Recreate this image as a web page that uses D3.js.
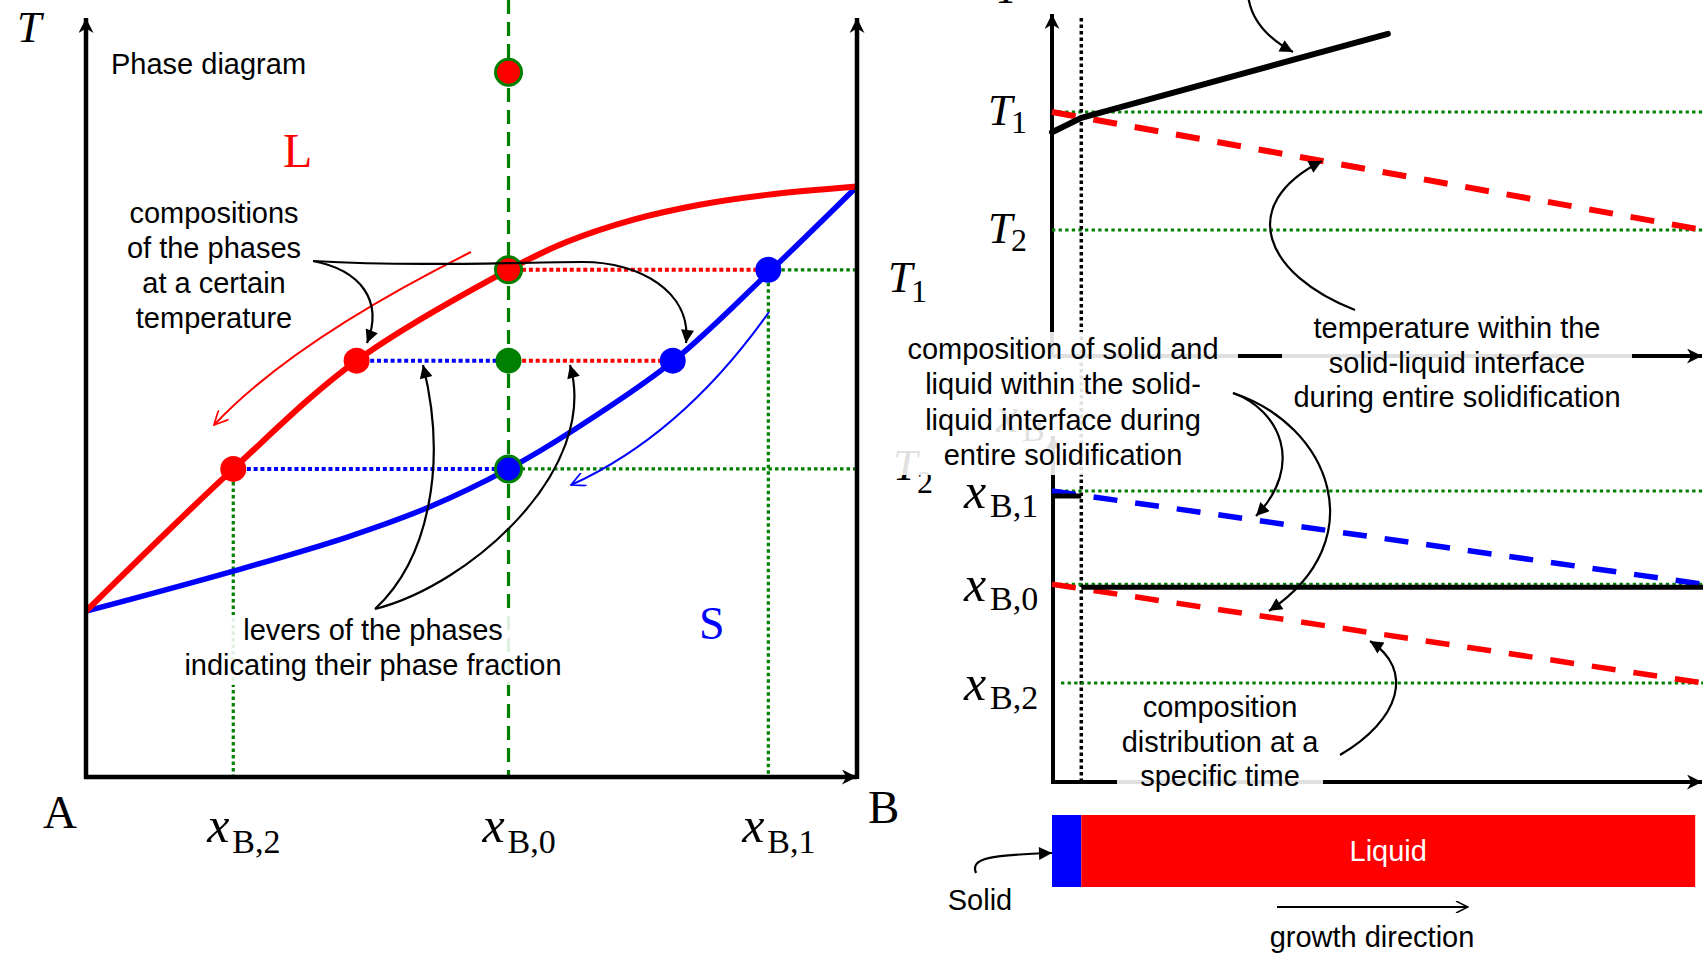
<!DOCTYPE html>
<html>
<head>
<meta charset="utf-8">
<script src="https://cdn.jsdelivr.net/npm/d3@7"></script>
<style>
  body { margin: 0; background: #fff; }
  svg { display: block; }
  .sans { font-family: 'Liberation Sans', Arial, sans-serif; font-size: 29px; fill: #000; }
  .math { font-family: 'Liberation Serif', 'Times New Roman', serif; fill: #000; }
</style>
</head>
<body>
<div id="chart"></div>
<script>
// ---- values ----

// compositions x_B marked on the phase diagram
const compositionNames = ['B,2', 'B,0', 'B,1'];
const compositionValues = [0.191, 0.548, 0.885];

// the two marked isotherms T1, T2 (arbitrary temperature units 0..100)
const temperatureNames = ['1', '2'];
const temperatureValues = [67.0, 40.7];
const tempMiddle = 55.0;   // intermediate tie line
const tempMelt = 93.1;     // melt above the liquidus

// liquidus and solidus as [x_B, T]
const liquidus = [[0, 21.9], [0.191, 40.7], [0.351, 55.0], [0.548, 67.0], [0.624, 70.7], [0.709, 73.6], [0.796, 75.6], [0.883, 76.9], [1, 78.0]];
const solidus = [[0, 21.9], [0.191, 27.2], [0.339, 31.7], [0.446, 35.7], [0.548, 40.7], [0.632, 45.8], [0.761, 54.9], [0.885, 66.6], [1, 78.0]];

// tie line ends at the intermediate temperature
const midLiquid = 0.351;
const midSolid = 0.761;

// right hand panels: position along the growth direction (0..1)
const interfacePos = 0.045;
const barEnd = 0.988;
const tempProfile = [[0, 62.5], [0.045, 65.7], [0.516, 84.4]];

const [x2, x0, x1] = compositionValues;
const [T1, T2] = temperatureValues;

// ---- setup ----
const W = 1703, H = 953;
const RED = '#ff0000', BLUE = '#0000ff', GREEN = '#008000';

const svg = d3.select('#chart').append('svg')
    .attr('width', W)
    .attr('height', H);

// scales: phase diagram
const xPD = d3.scaleLinear().domain([0, 1]).range([86, 857]);
const tPD = d3.scaleLinear().domain([0, 100]).range([777, 20]);
// scales: interface panels
const pos = d3.scaleLinear().domain([0, 1]).range([1052, 1703]);
const tIF = d3.scaleLinear().domain([T2, T1]).range([230, 112]);
const cIF = d3.scaleLinear().domain([x2, x1]).range([683, 491]);

// markers
const defs = svg.append('defs');
function marker(id, d, fill, stroke, w, h) {
    defs.append('marker')
        .attr('id', id)
        .attr('viewBox', '0 0 10 10')
        .attr('refX', 10).attr('refY', 5)
        .attr('markerUnits', 'userSpaceOnUse')
        .attr('markerWidth', w).attr('markerHeight', h)
        .attr('orient', 'auto')
        .append('path')
        .attr('d', d)
        .attr('fill', fill)
        .attr('stroke', stroke)
        .attr('stroke-width', stroke === 'none' ? 0 : 1.2);
}
marker('headFill', 'M0,0 L10,5 L0,10 z', '#000', 'none', 16, 13);
marker('axisHead', 'M0,0 L10,5 L0,10 L3,5 z', '#000', 'none', 15, 15);
marker('openRed', 'M0,0 L10,5 L0,10', 'none', RED, 16, 14);
marker('openBlue', 'M0,0 L10,5 L0,10', 'none', BLUE, 16, 14);
marker('openBlack', 'M0,0 L10,5 L0,10', 'none', '#000', 14, 12);

const curve = d3.line()
    .x(d => xPD(d[0]))
    .y(d => tPD(d[1]))
    .curve(d3.curveCatmullRom.alpha(0.5));

function hLine(g, xa, xb, y, color, width, dash) {
    return g.append('line')
        .attr('x1', xa).attr('x2', xb)
        .attr('y1', y).attr('y2', y)
        .attr('stroke', color)
        .attr('stroke-width', width)
        .attr('stroke-dasharray', dash);
}
function vLine(g, x, ya, yb, color, width, dash) {
    return g.append('line')
        .attr('x1', x).attr('x2', x)
        .attr('y1', ya).attr('y2', yb)
        .attr('stroke', color)
        .attr('stroke-width', width)
        .attr('stroke-dasharray', dash);
}
function box(g, x, y, w, h) {
    g.append('rect')
        .attr('x', x).attr('y', y)
        .attr('width', w).attr('height', h)
        .attr('fill', '#fff')
        .attr('opacity', 0.88);
}
function textBlock(g, lines, cx, y0, step) {
    const t = g.append('text').attr('class', 'sans').attr('text-anchor', 'middle');
    lines.forEach((s, i) => t.append('tspan').attr('x', cx).attr('y', y0 + i * step).text(s));
}
// italic symbol with upright subscript
function mathLabel(g, sym, sub, x, y, size, subSize, dx, dy) {
    const t = g.append('text').attr('class', 'math').attr('x', x).attr('y', y);
    t.append('tspan').attr('font-style', 'italic').attr('font-size', size).text(sym);
    if (sub) {
        t.append('tspan').attr('x', x + dx).attr('y', y + dy).attr('font-size', subSize).text(sub);
    }
    return t;
}

const DOT_GREEN = '3.5,3';
const DOT_LEVER = '4,2.8';

// ================= phase diagram =================
const pd = svg.append('g');

// overall composition x_B,0
vLine(pd, xPD(x0), 0, tPD(0), GREEN, 3.2, '14,8');

// tie lines and drop lines
hLine(pd, xPD(x0), xPD(x1), tPD(T1), RED, 4, DOT_LEVER);
hLine(pd, xPD(x1), xPD(1), tPD(T1), GREEN, 3.2, DOT_GREEN);
hLine(pd, xPD(midLiquid), xPD(x0), tPD(tempMiddle), BLUE, 4, DOT_LEVER);
hLine(pd, xPD(x0), xPD(midSolid), tPD(tempMiddle), RED, 4, DOT_LEVER);
hLine(pd, xPD(x2), xPD(x0), tPD(T2), BLUE, 4, DOT_LEVER);
hLine(pd, xPD(x0), xPD(1), tPD(T2), GREEN, 3.2, DOT_GREEN);
vLine(pd, xPD(x2), tPD(T2), tPD(0), GREEN, 3.2, DOT_GREEN);
vLine(pd, xPD(x1), tPD(T1), tPD(0), GREEN, 3.2, DOT_GREEN);

// liquidus / solidus
pd.append('path').datum(solidus)
    .attr('d', curve).attr('fill', 'none')
    .attr('stroke', BLUE).attr('stroke-width', 5.5);
pd.append('path').datum(liquidus)
    .attr('d', curve).attr('fill', 'none')
    .attr('stroke', RED).attr('stroke-width', 6);

// paths of liquid and solid during cooling
pd.append('path').attr('d', 'M471,252 Q293,341 214,425')
    .attr('fill', 'none').attr('stroke', RED).attr('stroke-width', 2)
    .attr('marker-end', 'url(#openRed)');
pd.append('path').attr('d', 'M769,312 Q682,435 571,485')
    .attr('fill', 'none').attr('stroke', BLUE).attr('stroke-width', 2)
    .attr('marker-end', 'url(#openBlue)');

// state points
const dots = [
    [x0, tempMelt, 'L'], [x0, T1, 'L'], [x1, T1, 'S'],
    [midLiquid, tempMiddle, 'L'], [x0, tempMiddle, 'M'], [midSolid, tempMiddle, 'S'],
    [x2, T2, 'L'], [x0, T2, 'S']
];
const dotColor = { L: RED, S: BLUE, M: GREEN };
pd.selectAll('circle.state').data(dots).join('circle')
    .attr('class', 'state')
    .attr('cx', d => xPD(d[0]))
    .attr('cy', d => tPD(d[1]))
    .attr('r', 13)
    .attr('fill', d => dotColor[d[2]])
    .attr('stroke', d => d[0] === x0 && d[2] !== 'M' ? GREEN : 'none')
    .attr('stroke-width', 3);

// annotation arrows
const ann = svg.append('g').attr('fill', 'none').attr('stroke', '#000').attr('stroke-width', 2.2);
ann.append('path').attr('d', 'M313,261 C360,270 384,300 367,343').attr('marker-end', 'url(#headFill)');
ann.append('path').attr('d', 'M313,261 C420,267 520,262 583,262 C640,262 692,292 686,343').attr('marker-end', 'url(#headFill)');
ann.append('path').attr('d', 'M375,609 C428,560 448,465 423,365').attr('marker-end', 'url(#headFill)');
ann.append('path').attr('d', 'M375,609 C470,585 600,470 570,365').attr('marker-end', 'url(#headFill)');

// axes
const axes = svg.append('g').attr('stroke', '#000').attr('stroke-width', 4.5).attr('fill', 'none');
axes.append('line').attr('x1', xPD(0)).attr('y1', tPD(0) + 2).attr('x2', xPD(0)).attr('y2', 18).attr('marker-end', 'url(#axisHead)');
axes.append('line').attr('x1', xPD(1)).attr('y1', tPD(0) + 2).attr('x2', xPD(1)).attr('y2', 18).attr('marker-end', 'url(#axisHead)');
axes.append('line').attr('x1', xPD(0) - 2).attr('y1', tPD(0)).attr('x2', 857).attr('y2', tPD(0)).attr('marker-end', 'url(#axisHead)');

// levers text box
box(pd, 178, 615, 390, 70);
textBlock(svg, ['levers of the phases', 'indicating their phase fraction'], 373, 640, 35);
textBlock(svg, ['compositions', 'of the phases', 'at a certain', 'temperature'], 214, 223, 35);
svg.append('text').attr('class', 'sans').attr('x', 111).attr('y', 74).text('Phase diagram');

// phase labels
svg.append('text').attr('class', 'math').attr('x', 283).attr('y', 167).attr('font-size', 48).style('fill', RED).text('L');
svg.append('text').attr('class', 'math').attr('x', 699).attr('y', 639).attr('font-size', 46).style('fill', BLUE).text('S');
svg.append('text').attr('class', 'math').attr('x', 43).attr('y', 828).attr('font-size', 47).text('A');
svg.append('text').attr('class', 'math').attr('x', 868).attr('y', 823).attr('font-size', 47).text('B');
mathLabel(svg, 'T', null, 17, 42, 44);

// composition tick labels under the diagram
compositionValues.forEach((c, i) => {
    mathLabel(svg, 'x', compositionNames[i], xPD(c) - 26, 842, 50, 34, 25, 11);
});

// temperature label beside the diagram
mathLabel(svg, 'T', temperatureNames[0], 888, 292, 44, 32, 23, 10);

// ================= temperature at the interface =================
const tp = svg.append('g');
temperatureValues.forEach(t => hLine(tp, pos(0), pos(1), tIF(t), GREEN, 3.2, '3.3,3.3'));
vLine(tp, pos(interfacePos), 18, 782, '#000', 3.5, '3.5,3');
tp.append('line')
    .attr('x1', pos(0)).attr('y1', tIF(T1))
    .attr('x2', pos(1)).attr('y2', tIF(T2))
    .attr('stroke', RED).attr('stroke-width', 6).attr('stroke-dasharray', '24,18');
tp.append('path').datum(tempProfile)
    .attr('d', d3.line().x(d => pos(d[0])).y(d => tIF(d[1])))
    .attr('fill', 'none').attr('stroke', '#000').attr('stroke-width', 6)
    .attr('stroke-linecap', 'round').attr('stroke-linejoin', 'round');
temperatureValues.forEach((t, i) => {
    mathLabel(svg, 'T', temperatureNames[i], 988, tIF(t) + 13, 44, 32, 23, 8);
});
mathLabel(svg, 'T', null, 995, 3, 44);

// axes of the temperature panel
axes.append('line').attr('x1', pos(0)).attr('y1', 358).attr('x2', pos(0)).attr('y2', 14).attr('stroke-width', 4).attr('marker-end', 'url(#axisHead)');
axes.append('line').attr('x1', pos(0) - 2).attr('y1', 356).attr('x2', 1702).attr('y2', 356).attr('stroke-width', 4).attr('marker-end', 'url(#axisHead)');

// ================= composition at the interface =================
const cp = svg.append('g');
compositionValues.forEach(c => hLine(cp, c === x2 ? 1061 : pos(0), pos(1), cIF(c), GREEN, 3.2, '3.3,3.3'));
cp.append('line')
    .attr('x1', pos(0)).attr('y1', cIF(x1))
    .attr('x2', pos(1)).attr('y2', cIF(x0))
    .attr('stroke', BLUE).attr('stroke-width', 5.5).attr('stroke-dasharray', '24,18');
cp.append('line')
    .attr('x1', pos(0)).attr('y1', cIF(x0))
    .attr('x2', pos(1)).attr('y2', cIF(x2))
    .attr('stroke', RED).attr('stroke-width', 5.5).attr('stroke-dasharray', '24,18');
// actual composition profile: solid at x_B,1, liquid at x_B,0
hLine(cp, pos(0), pos(interfacePos), cIF(x1) + 5, '#000', 5, null);
hLine(cp, pos(interfacePos), pos(1), cIF(x0) + 3, '#000', 5, null);
compositionValues.forEach((c, i) => {
    mathLabel(svg, 'x', compositionNames[i], 964, cIF(c) + 17, 50, 34, 26, 9);
});
axes.append('line').attr('x1', pos(0) + 1).attr('y1', 784).attr('x2', pos(0) + 1).attr('y2', 436).attr('stroke-width', 4).attr('marker-end', 'url(#axisHead)');
axes.append('line').attr('x1', pos(0) - 1).attr('y1', 782).attr('x2', 1702).attr('y2', 782).attr('stroke-width', 4).attr('marker-end', 'url(#axisHead)');

// labels partly hidden behind the text boxes
mathLabel(svg, 'x', 'B', 996, 432, 50, 34, 26, 9);
mathLabel(svg, 'T', temperatureNames[1], 893, 480, 44, 32, 24, 13);

// semi-transparent text boxes
box(svg, 890, 332, 348, 143);
box(svg, 1282, 314, 350, 104);
box(svg, 1117, 690, 206, 106);

textBlock(svg, ['composition of solid and', 'liquid within the solid-', 'liquid interface during', 'entire solidification'], 1063, 359, 35.3);
textBlock(svg, ['temperature within the', 'solid-liquid interface', 'during entire solidification'], 1457, 338, 34.5);
textBlock(svg, ['composition', 'distribution at a', 'specific time'], 1220, 717, 34.5);

const ann2 = svg.append('g').attr('fill', 'none').attr('stroke', '#000').attr('stroke-width', 2.2);
ann2.append('path').attr('d', 'M1248,-5 Q1252,30 1293,52').attr('marker-end', 'url(#headFill)');
ann2.append('path').attr('d', 'M1355,310 C1265,275 1235,205 1322,161').attr('marker-end', 'url(#headFill)');
ann2.append('path').attr('d', 'M1233,393 C1280,410 1305,465 1256,516').attr('marker-end', 'url(#headFill)');
ann2.append('path').attr('d', 'M1233,393 C1330,425 1375,540 1269,611').attr('marker-end', 'url(#headFill)');
ann2.append('path').attr('d', 'M1340,755 C1400,720 1415,670 1370,641').attr('marker-end', 'url(#headFill)');

// ================= solid / liquid bar =================
const bar = svg.append('g');
bar.append('rect')
    .attr('x', pos(0)).attr('y', 815)
    .attr('width', pos(interfacePos) - pos(0)).attr('height', 72)
    .attr('fill', BLUE);
bar.append('rect')
    .attr('x', pos(interfacePos)).attr('y', 815)
    .attr('width', pos(barEnd) - pos(interfacePos)).attr('height', 72)
    .attr('fill', RED);
bar.append('text').attr('class', 'sans').attr('x', (pos(interfacePos) + pos(barEnd)) / 2).attr('y', 861)
    .attr('text-anchor', 'middle').style('fill', '#fff').text('Liquid');
svg.append('text').attr('class', 'sans').attr('x', 980).attr('y', 910).attr('text-anchor', 'middle').text('Solid');
ann2.append('path').attr('d', 'M976,873 C970,858 990,855 1052,853').attr('marker-end', 'url(#headFill)');
ann2.append('path').attr('d', 'M1277,907 L1468,907').attr('marker-end', 'url(#openBlack)');
svg.append('text').attr('class', 'sans').attr('x', 1372).attr('y', 947).attr('text-anchor', 'middle').text('growth direction');
</script>
</body>
</html>
